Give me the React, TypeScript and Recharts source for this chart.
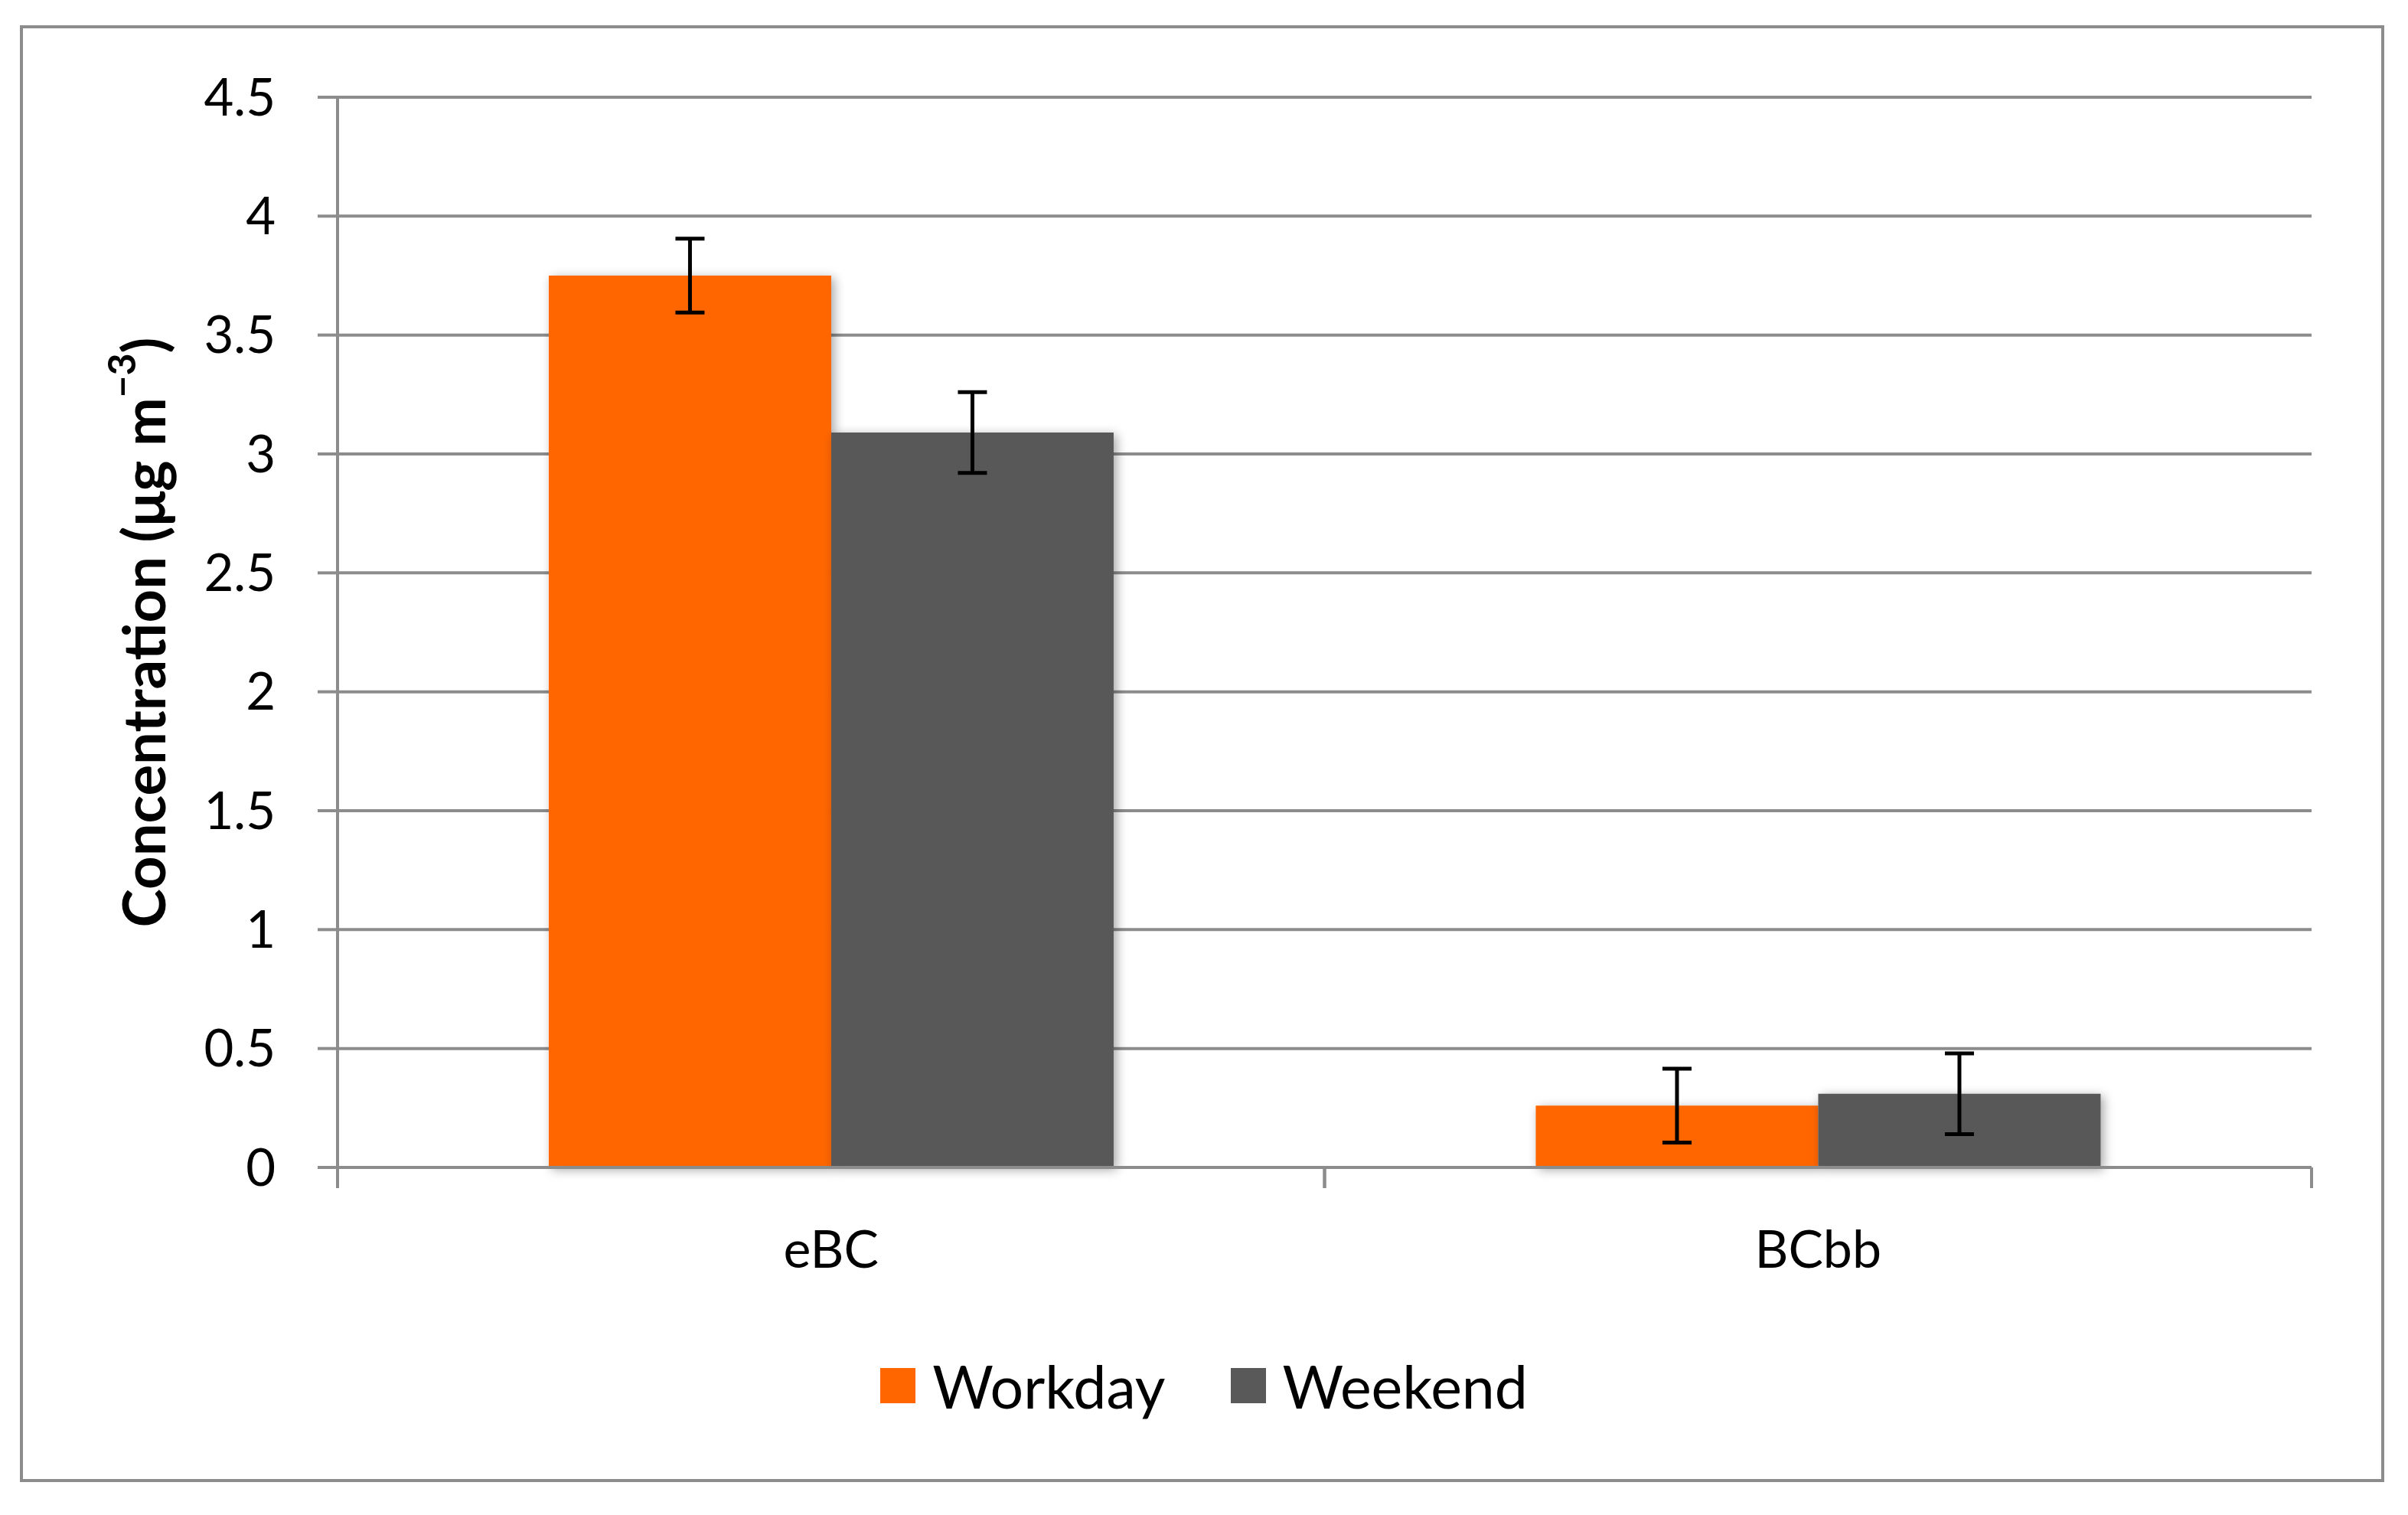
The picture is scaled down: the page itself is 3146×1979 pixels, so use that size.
import React from 'react';
import { BarChart, Bar, XAxis, YAxis, CartesianGrid, ErrorBar } from 'recharts';

const categories = ['eBC', 'BCbb'];
const workday = [3.75, 0.26];
const weekend = [3.09, 0.31];
const workdayErr = [0.155, 0.155];
const weekendErr = [0.17, 0.17];
const yTicks = [0, 0.5, 1, 1.5, 2, 2.5, 3, 3.5, 4, 4.5];
const seriesNames = ['Workday', 'Weekend'];
const seriesColors = ['#FF6600', '#595959'];

const data = categories.map((name, i) => ({
  name,
  workday: workday[i],
  weekend: weekend[i],
  workdayErr: workdayErr[i],
  weekendErr: weekendErr[i],
}));

const AXIS = '#8c8c8c';
const FONT = 'Lato, "Open Sans", sans-serif';

const YLabel = (props: any) => {
  const vb = props.viewBox || {};
  const cx = vb.x + 45;
  const cy = vb.y + vb.height / 2;
  return (
    <text
      x={cx}
      y={cy}
      transform={`rotate(-90 ${cx} ${cy})`}
      textAnchor="middle"
      dominantBaseline="central"
      fontFamily={FONT}
      fontWeight={700}
      fontSize={76}
      fill="#000"
    >
      Concentration (μg m
      <tspan dy={-28} fontSize={50}>−3</tspan>
      <tspan dy={28}>)</tspan>
    </text>
  );
};

const CatTick = (props: any) => {
  const { x, y, payload } = props;
  const half = payload && typeof payload.offset === 'number' ? payload.offset : 0;
  return (
    <g>
      <line x1={x - half} x2={x - half} y1={y} y2={y + 27} stroke={AXIS} strokeWidth={4} />
      <line x1={x + half} x2={x + half} y1={y} y2={y + 27} stroke={AXIS} strokeWidth={4} />
      <text x={x} y={y + 83} dy="0.71em" textAnchor="middle" fontSize={68} fill="#000" fontFamily={FONT}>
        {payload.value}
      </text>
    </g>
  );
};

export default function App() {
  return (
    <div style={{ position: 'absolute', left: 0, top: 0, width: 3146, height: 1979, background: '#fff' }}>
      <div
        style={{
          position: 'absolute',
          left: 26,
          top: 33,
          width: 3089,
          height: 1903,
          border: `4px solid ${AXIS}`,
          boxSizing: 'border-box',
        }}
      />
      <div style={{ position: 'absolute', left: 0, top: 0 }}>
        <BarChart
          width={3146}
          height={1979}
          data={data}
          margin={{ top: 127, right: 126, bottom: 453, left: 141 }}
          barCategoryGap="21.4%"
          barGap={0}
        >
          <defs>
            <filter id="barShadow" x="-20%" y="-20%" width="140%" height="140%">
              <feDropShadow dx={4} dy={3} stdDeviation={7} floodColor="#000" floodOpacity={0.35} />
            </filter>
          </defs>
          <CartesianGrid vertical={false} stroke={AXIS} strokeWidth={4} />
          <XAxis
            dataKey="name"
            height={1}
            tickLine={false}
            tickSize={0}
            tickMargin={0}
            axisLine={{ stroke: AXIS, strokeWidth: 4 }}
            tick={<CatTick />}
          />
          <YAxis
            domain={[0, 4.5]}
            ticks={yTicks}
            width={300}
            tickSize={26}
            tickMargin={55}
            tickLine={{ stroke: AXIS, strokeWidth: 4 }}
            axisLine={{ stroke: AXIS, strokeWidth: 4 }}
            tick={{ fontSize: 67, fill: '#000', fontFamily: FONT }}
            label={<YLabel />}
          />
          <Bar dataKey="workday" name={seriesNames[0]} fill={seriesColors[0]} isAnimationActive={false} filter="url(#barShadow)">
            <ErrorBar dataKey="workdayErr" width={19} strokeWidth={5} stroke="#000" direction="y" />
          </Bar>
          <Bar dataKey="weekend" name={seriesNames[1]} fill={seriesColors[1]} isAnimationActive={false} filter="url(#barShadow)">
            <ErrorBar dataKey="weekendErr" width={19} strokeWidth={5} stroke="#000" direction="y" />
          </Bar>
        </BarChart>
      </div>
      <div
        style={{
          position: 'absolute',
          left: 0,
          top: 1772,
          width: 3146,
          height: 76,
          display: 'flex',
          justifyContent: 'center',
          alignItems: 'center',
          fontFamily: FONT,
          fontSize: 77,
          lineHeight: 1,
          color: '#000',
        }}
      >
        {seriesNames.map((n, i) => (
          <div key={n} style={{ display: 'flex', alignItems: 'center', marginLeft: i === 0 ? 0 : 85 }}>
            <div style={{ width: 46, height: 46, background: seriesColors[i], marginRight: 22 }} />
            <span>{n}</span>
          </div>
        ))}
      </div>
    </div>
  );
}
